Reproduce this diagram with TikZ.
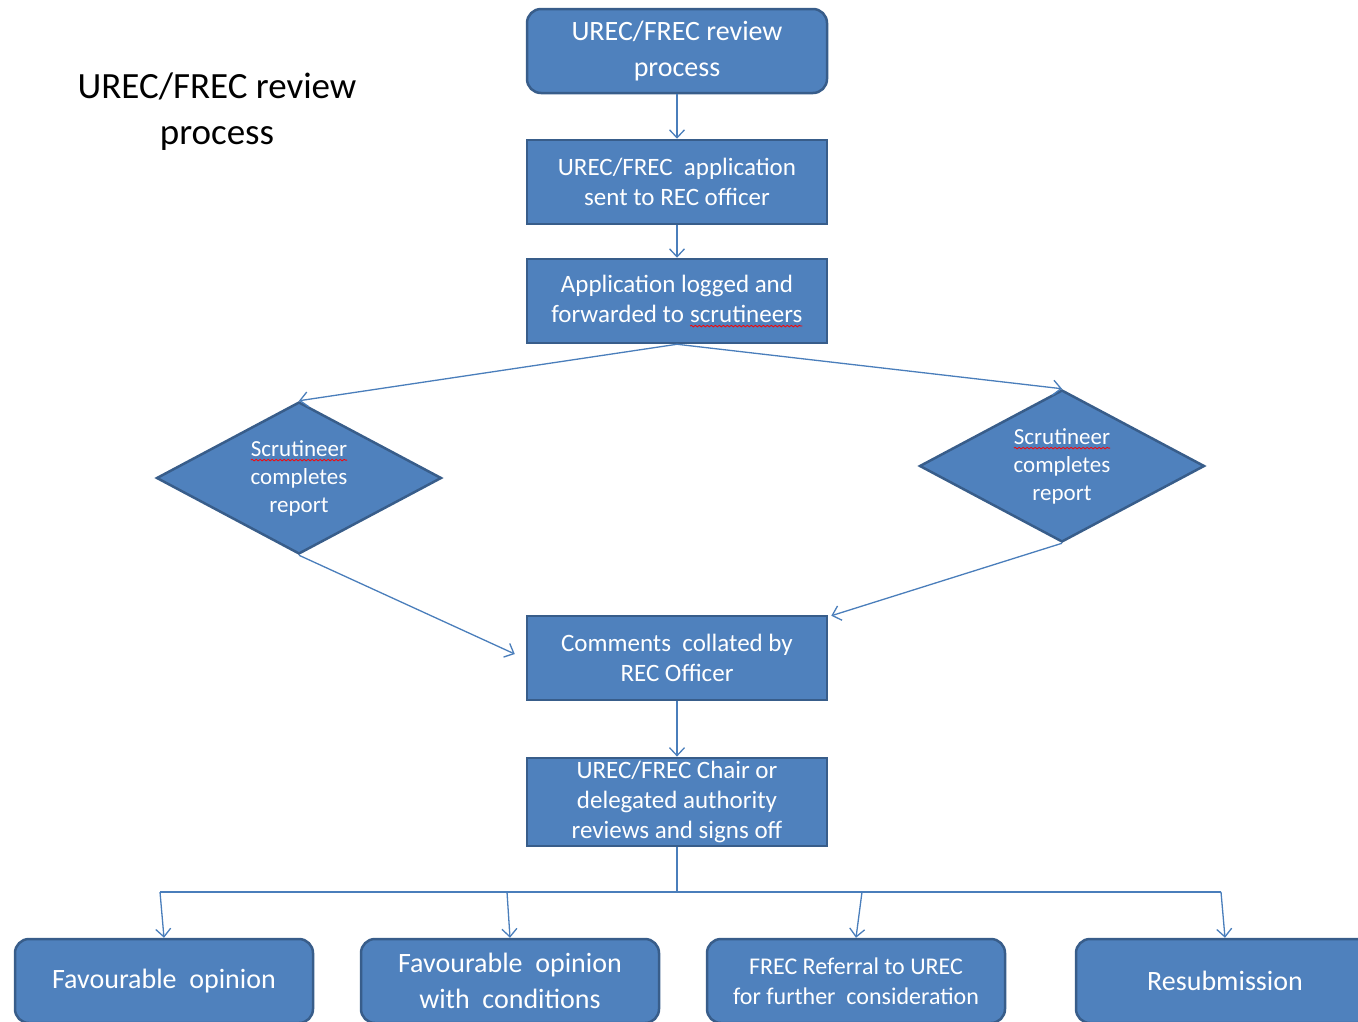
\documentclass[tikz,border=0pt]{standalone}
\usepackage{fontspec}
\setmainfont{Carlito}
\usetikzlibrary{arrows.meta,shapes.geometric,decorations.pathmorphing}
\definecolor{boxblue}{HTML}{4F81BD}
\definecolor{boxedge}{HTML}{385D8A}
\definecolor{linkblue}{HTML}{4A7EBB}
\newcommand{\spellmark}[1]{\tikz[baseline=(sw.base),x=1pt,y=1pt]{\node[shape=rectangle,draw=none,fill=none,inner sep=0pt,outer sep=0pt,minimum size=0pt,text=white] (sw) {#1};\draw[red,line width=0.8pt,decorate,decoration={snake,amplitude=0.8pt,segment length=4pt}] ([yshift=-4pt]sw.base west) -- ([yshift=-4pt]sw.base east);}}

\begin{document}
\begin{tikzpicture}[x=1pt,y=-1pt]
\tikzset{procbox/.style = {shape=rectangle,draw=boxedge,line width=2.5pt,fill=boxblue,text=white,minimum width=300pt,minimum height=84pt,align=center,font=\fontsize{25}{30}\selectfont}}
\tikzset{roundbox/.style = {procbox,rounded corners=14pt}}
\tikzset{decision/.style = {shape=diamond,aspect=1.875,draw=boxedge,line width=2.5pt,fill=boxblue,text=white,minimum width=285pt,minimum height=152pt,inner sep=0pt,align=center,font=\fontsize{23}{28}\selectfont}}
\tikzset{link/.style = {draw=linkblue,line width=1.3pt,-{Straight Barb[length=8pt,width=15pt]}}}
\tikzset{plain/.style = {draw=linkblue,line width=1.3pt}}
\useasboundingbox (0,0) rectangle (1358,1021);
\clip (0,0) rectangle (1358,1021);
% title
\node[font=\fontsize{37}{46}\selectfont,align=center] (title) at (217,112) {UREC/FREC review\\process};
% boxes
\node[roundbox,font=\fontsize{28}{36}\selectfont] (start) at (677,51) {UREC/FREC review\\process};
\node[procbox] (sent) at (677,182) {UREC/FREC\ \ application\\sent to REC officer};
\node[procbox] (logged) at (677,301) {Application logged and\\forwarded to \spellmark{scrutineers}};
\node[decision] (scrL) at (299,478) {\spellmark{Scrutineer}\\completes\\report};
\node[decision] (scrR) at (1062,466) {\spellmark{Scrutineer}\\completes\\report};
\node[procbox] (collate) at (677,658) {Comments\ \ collated by\\REC Officer};
\node[procbox] (chair) at (677,802) {UREC/FREC Chair or\\delegated authority\\reviews and signs off};
% outcomes
\node[roundbox,minimum width=298pt,font=\fontsize{28}{36}\selectfont] (fav) at (164,981) {Favourable\ \ opinion};
\node[roundbox,minimum width=298pt,font=\fontsize{28}{36}\selectfont] (favcond) at (510,981) {Favourable\ \ opinion\\with\ \ conditions};
\node[roundbox,minimum width=298pt,font=\fontsize{24}{30}\selectfont] (referral) at (856,981) {FREC Referral to UREC\\for further\ \ consideration};
\node[roundbox,minimum width=298pt,font=\fontsize{28}{36}\selectfont] (resub) at (1225,981) {Resubmission};
% junction points
\coordinate (split) at (677,892);
\coordinate (toL) at (160,892);
\coordinate (toA) at (507,892);
\coordinate (toB) at (862,892);
\coordinate (toR) at (1221,892);
% edges
\draw[link] (start) -- (sent);
\draw[link] (sent) -- (logged);
\draw[link] (logged.south) -- (scrL.north);
\draw[link] (logged.south) -- (scrR.north);
\draw[link] (scrL.south) -- ([shift={(-11,-4)}]collate.west);
\draw[link] (scrR.south) -- ([shift={(3,1)}]collate.north east);
\draw[link] (collate) -- (chair);
\draw[plain] (chair.south) -- (split);
\draw[plain] (toL) -- (toR);
\draw[link] (toL) -- (fav.north);
\draw[link] (toA) -- (favcond.north);
\draw[link] (toB) -- (referral.north);
\draw[link] (toR) -- (resub.north);
\end{tikzpicture}
\end{document}
